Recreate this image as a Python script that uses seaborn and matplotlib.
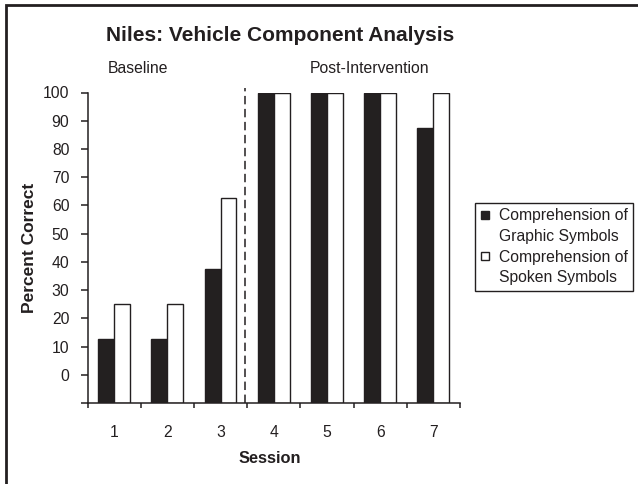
import numpy as np
import pandas as pd
import matplotlib
matplotlib.use("Agg")
import matplotlib.pyplot as plt
from matplotlib.lines import Line2D
from matplotlib.patches import Rectangle
import seaborn as sns

# ---- data ----
sessions = ["1", "2", "3", "4", "5", "6", "7"]
graphic = [12.5, 12.5, 37.5, 100, 100, 100, 87.5]
spoken = [25, 25, 62.5, 100, 100, 100, 100]
series_names = ["Comprehension of Graphic Symbols", "Comprehension of Spoken Symbols"]
y_ticks = list(range(0, 101, 10))
axis_floor = -10  # bars rise from the bottom of the value axis

BLACK = "#231f20"

sns.set_style("ticks")
plt.rcParams["font.family"] = ["Liberation Sans", "DejaVu Sans"]
plt.rcParams["text.color"] = BLACK
plt.rcParams["axes.labelcolor"] = BLACK
plt.rcParams["xtick.color"] = BLACK
plt.rcParams["ytick.color"] = BLACK

df = pd.DataFrame({
    "Session": sessions * 2,
    "Series": [series_names[0]] * len(sessions) + [series_names[1]] * len(sessions),
    "Percent": graphic + spoken,
})
df["Height"] = df["Percent"] - axis_floor

W, H = 638, 484
fig = plt.figure(figsize=(W / 100, H / 100), dpi=100)
ax = fig.add_axes([87.5 / W, 1 - 403 / H, 372.5 / W, 310.5 / H])

sns.barplot(data=df, x="Session", y="Height", hue="Series", order=sessions,
            hue_order=series_names,
            palette={series_names[0]: BLACK, series_names[1]: "white"},
            width=0.6, gap=0, errorbar=None, edgecolor=BLACK, linewidth=1.0,
            bottom=axis_floor, legend=False, ax=ax)

ax.set_xlim(-0.5, len(sessions) - 0.5)
ax.set_ylim(axis_floor, 100)

# y ticks
ax.set_yticks([axis_floor] + y_ticks)
ax.set_yticklabels([""] + [str(v) for v in y_ticks], fontsize=11.3)
ax.tick_params(axis="y", direction="out", length=5, width=1.1, pad=8)

# x ticks: marks at boundaries, labels at centers
ax.set_xticks(np.arange(-0.5, len(sessions), 1.0))
ax.set_xticklabels([""] * (len(sessions) + 1))
ax.set_xticks(np.arange(len(sessions)), minor=True)
ax.set_xticklabels(sessions, minor=True, fontsize=11.3)
ax.tick_params(axis="x", which="major", direction="out", length=3.8, width=1.1)
ax.tick_params(axis="x", which="minor", length=0, pad=16)

for s in ["top", "right"]:
    ax.spines[s].set_visible(False)
for s in ["left", "bottom"]:
    ax.spines[s].set_linewidth(1.1)
    ax.spines[s].set_color(BLACK)

ax.set_ylabel("Percent Correct", fontsize=12.5, fontweight="bold")
ax.set_xlabel("Session", fontsize=11.8, fontweight="bold")
ax.yaxis.set_label_coords(-0.155, 0.5)
ax.yaxis.label.set_va("center")
ax.xaxis.set_label_coords(0.49, -0.18)
ax.xaxis.label.set_va("center")

# phase change line
ax.plot([2.46, 2.46], [axis_floor, 101.5], color=BLACK, lw=1.1,
        linestyle=(0, (5.5, 3)), clip_on=False)

# titles
fig.text(280.5 / W, 1 - 41 / H, "Niles: Vehicle Component Analysis",
         ha="center", va="baseline", fontsize=15, fontweight="bold")
fig.text(138 / W, 1 - 73 / H, "Baseline", ha="center", va="baseline", fontsize=11.3)
fig.text(370 / W, 1 - 73 / H, "Post-Intervention", ha="center", va="baseline", fontsize=11.3)

# legend
blank = Line2D([], [], linestyle="none")
h1 = Line2D([], [], marker="s", linestyle="none", markersize=5.5,
            markerfacecolor=BLACK, markeredgecolor=BLACK, markeredgewidth=1)
h2 = Line2D([], [], marker="s", linestyle="none", markersize=5.5,
            markerfacecolor="white", markeredgecolor=BLACK, markeredgewidth=1)
leg = fig.legend([h1, blank, h2, blank],
                 ["Comprehension of", "Graphic Symbols", "Comprehension of", "Spoken Symbols"],
                 loc="upper left", bbox_to_anchor=(475 / W, 1 - 203 / H),
                 fontsize=11.3, frameon=True, fancybox=False, shadow=False,
                 borderaxespad=0, borderpad=0.35, handlelength=0.6, handletextpad=0.55,
                 labelspacing=0.36)
leg.get_frame().set_edgecolor(BLACK)
leg.get_frame().set_linewidth(1.0)
leg.get_frame().set_alpha(None)
leg.get_frame().set_facecolor("white")

# outer frame (only left and top edges are inside the picture)
fig.add_artist(Rectangle((6 / W, -0.2), 1.5, 1.2 - 5 / H, transform=fig.transFigure,
                         fill=False, edgecolor=BLACK, linewidth=2))

fig.savefig("out.png", dpi=100)
